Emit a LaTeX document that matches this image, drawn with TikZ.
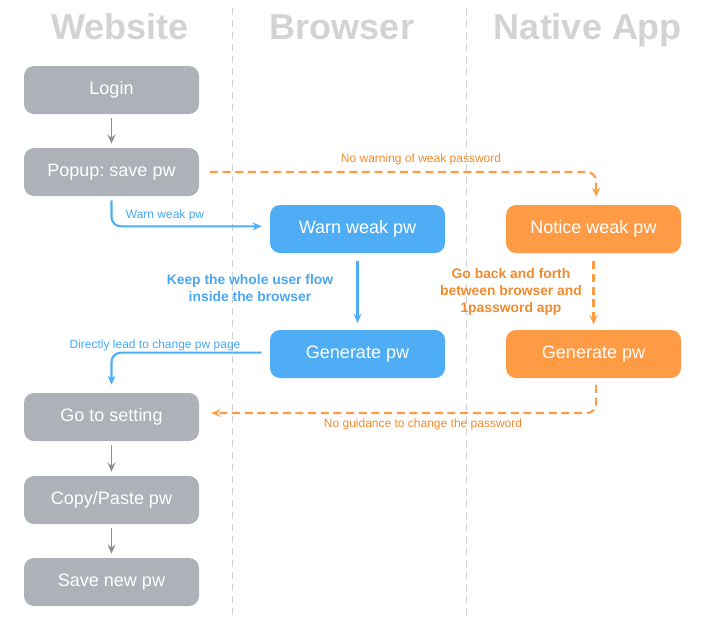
\documentclass[tikz,border=0pt]{standalone}
\usepackage{fontspec}
\setmainfont{Liberation Sans}
\usetikzlibrary{arrows.meta}
\definecolor{boxgrey}{HTML}{AEB1B7}
\definecolor{boxblue}{HTML}{4EADF5}
\definecolor{boxorange}{HTML}{FF9A45}
\definecolor{lineorange}{HTML}{FF9A45}
\definecolor{textorange}{HTML}{F28A2E}
\definecolor{textblue}{HTML}{4AA8F0}
\definecolor{titlegrey}{HTML}{D3D3D3}
\definecolor{sepgrey}{HTML}{CFCFCF}
\definecolor{arrowgrey}{HTML}{8E8E8E}
\begin{document}
\frenchspacing
\begin{tikzpicture}[x=0.75pt,y=-0.75pt,
  box/.style={rounded corners=7.5pt, minimum width=131.25pt, minimum height=36pt, inner sep=0pt, text=white, font=\fontsize{13.5}{16}\selectfont},
  greybox/.style={box, fill=boxgrey},
  bluebox/.style={box, fill=boxblue},
  orangebox/.style={box, fill=boxorange},
  title/.style={text=titlegrey, anchor=base, font=\fontsize{27}{32}\selectfont\bfseries},
  tip/.style={-{Stealth[length=7pt,width=6pt,inset=2.5pt]}},
  greyarrow/.style={tip, draw=arrowgrey, line width=1.4pt, shorten >=3pt, shorten <=3pt},
  bluearrow/.style={tip, draw=boxblue, line width=1.6pt, rounded corners=7pt},
  orangearrow/.style={tip, draw=lineorange, line width=1.6pt, dash pattern=on 6pt off 3.5pt, rounded corners=7pt},
  smalllabel/.style={font=\fontsize{9}{11}\selectfont},
  boldlabel/.style={font=\fontsize{10.4}{13}\selectfont\bfseries, align=center},
  sep/.style={draw=sepgrey, line width=0.7pt, dash pattern=on 5pt off 4pt}
]
\useasboundingbox (0,0) rectangle (709,625);
% column separators
\coordinate (s1t) at (232,8);
\coordinate (s1b) at (232,616);
\coordinate (s2t) at (466,8);
\coordinate (s2b) at (466,616);
\draw[sep] (s1t) -- (s1b);
\draw[sep] (s2t) -- (s2b);
% titles
\node[title] (tweb) at (120,39) {Website};
\node[title] (tbro) at (342,39) {Browser};
\node[title] (tnat) at (588,39) {Native App};
% boxes
\node[greybox] (login) at (111.5,90) {Login};
\node[greybox] (popup) at (111.5,172) {Popup: save pw};
\node[bluebox] (warn) at (357.5,229) {Warn weak pw};
\node[orangebox] (notice) at (593.5,229) {Notice weak pw};
\node[bluebox] (genb) at (357.5,354) {Generate pw};
\node[orangebox] (genn) at (593.5,354) {Generate pw};
\node[greybox] (setting) at (111.5,417) {Go to setting};
\node[greybox] (copy) at (111.5,500) {Copy/Paste pw};
\node[greybox] (save) at (111.5,582) {Save new pw};
% grey arrows
\draw[greyarrow] (login) -- (popup);
\draw[greyarrow] (setting) -- (copy);
\draw[greyarrow] (copy) -- (save);
% blue flow
\draw[bluearrow] ([yshift=-3pt]popup.south) |- ([xshift=-6pt,yshift=2pt]warn.west);
\node[smalllabel, text=textblue] (lwarn) at (165,215) {Warn weak pw};
\draw[bluearrow] ([yshift=-6pt]warn.south) -- ([yshift=5pt]genb.north);
\node[boldlabel, text=textblue] (lkeep) at (250,288) {Keep the whole user flow\\inside the browser};
\draw[bluearrow] ([xshift=-6pt,yshift=1pt]genb.west) -| ([yshift=6pt]setting.north);
\node[smalllabel, text=textblue] (ldirect) at (155,345) {Directly lead to change pw page};
% orange flow
\draw[orangearrow] ([xshift=8pt]popup.east) -| ([xshift=2pt,yshift=6pt]notice.north);
\node[smalllabel, text=textorange] (lnowarn) at (421,159) {No warning of weak password};
\draw[orangearrow] ([yshift=-6pt]notice.south) -- ([yshift=4pt]genn.north);
\node[boldlabel, text=textorange] (lgoback) at (511,292) {Go back and forth\\between browser and\\1password app};
\draw[orangearrow] ([xshift=2pt,yshift=-5pt]genn.south) |- ([xshift=9pt,yshift=3pt]setting.east);
\node[smalllabel, text=textorange] (lnoguide) at (423,424) {No guidance to change the password};
\end{tikzpicture}
\end{document}
